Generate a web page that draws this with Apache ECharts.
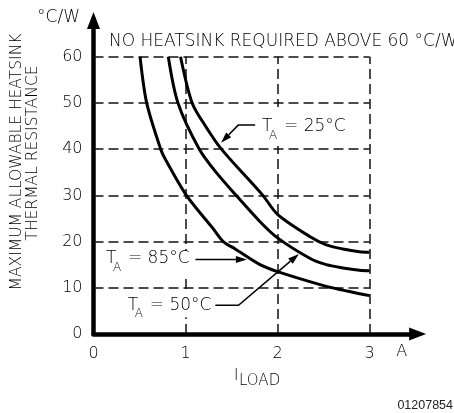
<!DOCTYPE html>
<html>
<head>
<meta charset="utf-8">
<script src="https://cdn.jsdelivr.net/npm/echarts@6/dist/echarts.min.js"></script>
<style>
  html, body { margin: 0; padding: 0; background: #fff; }
  #c { width: 454px; height: 413px; }
</style>
</head>
<body>
<div id="c"></div>
<script>
// Axis ticks
const xTicks = [0, 1, 2, 3];
const yTicks = [0, 10, 20, 30, 40, 50, 60];

// Maximum allowable heatsink thermal resistance (°C/W) vs load current (A)
const curve25 = [[0.946, 60], [1.072, 50], [1.22, 44.9], [1.39, 40], [1.84, 30], [2.0, 25.9],
                 [2.35, 21.1], [2.53, 19.3], [2.71, 18.4], [2.89, 17.8], [3.0, 17.7]];
const curve50 = [[0.813, 60], [0.918, 50], [1.15, 40], [1.34, 34.8], [1.55, 30], [1.81, 24.3], [2.0, 20.8],
                 [2.35, 16.4], [2.53, 15.0], [2.71, 14.3], [2.89, 13.8], [3.0, 13.7]];
const curve85 = [[0.506, 60], [0.578, 50], [0.73, 40], [0.784, 37.7], [1.01, 30], [1.30, 22.8], [1.41, 20],
                 [1.54, 18.4], [1.81, 15.0], [2.0, 13.5], [2.53, 10.3], [2.71, 9.5], [2.89, 8.7], [3.0, 8.3]];

// Curve callout texts
const calloutTemps = ['25°C', '85°C', '50°C'];

// Callout placement in axis units: label anchor, leader line (ends in an arrowhead), masked band around label
const calloutLayout = [
  { at: [1.832, 44.8], leader: [[1.757, 45.2], [1.573, 45.2], [1.386, 41.4]], mask: [20, 19] },
  { at: [0.135, 16.3], leader: [[1.108, 16.1], [1.667, 16.1]], mask: [8, 16] },
  { at: [0.373, 6.2],  leader: [[1.324, 6.2], [1.576, 6.2], [2.232, 17.3]], mask: [12, 12] }
];

const FAMILY = '"DejaVu Sans", sans-serif';
const font = size => '200 ' + size + 'px ' + FAMILY;
const X_MAX = 3.43;
const Y_MAX = 66;
const xLast = xTicks[xTicks.length - 1];
const yLast = yTicks[yTicks.length - 1];

const gridSegments = []
  .concat(yTicks.filter(v => v > 0).map(v => ({ coords: [[0, v], [xLast, v]] })))
  .concat(xTicks.filter(v => v > 0).map(v => ({ coords: [[v, 0], [v, yLast]] })));

function curveSeries(data) {
  return {
    type: 'line', data: data, showSymbol: false, smooth: 0.3,
    lineStyle: { color: '#000', width: 3 }, z: 5, silent: true
  };
}

const labelStyle = { color: '#000', fontFamily: FAMILY, fontWeight: 200, fontSize: 16 };
const axisCommon = {
  type: 'value',
  splitLine: { show: false },
  axisTick: { show: false },
  axisLine: {
    onZero: false,
    lineStyle: { color: '#000', width: 4.5 },
    symbol: ['none', 'triangle'],
    symbolSize: [13, 17],
    symbolOffset: [0, 8.5]
  }
};

const chart = echarts.init(document.getElementById('c'), null, { renderer: 'canvas' });
chart.setOption({
  animation: false,
  grid: { left: 93.5, top: 29, width: 315.6, height: 305 },
  xAxis: Object.assign({}, axisCommon, {
    min: 0, max: X_MAX,
    axisLabel: Object.assign({ customValues: xTicks, margin: 12 }, labelStyle)
  }),
  yAxis: Object.assign({}, axisCommon, {
    min: 0, max: Y_MAX,
    axisLabel: Object.assign({ customValues: yTicks, margin: 11 }, labelStyle)
  }),
  series: [
    {
      type: 'lines', coordinateSystem: 'cartesian2d', data: gridSegments, silent: true, z: 1,
      lineStyle: { color: '#111', width: 1.5, type: [10, 5], opacity: 1 }
    },
    curveSeries(curve25),
    curveSeries(curve50),
    curveSeries(curve85)
  ]
});

const toPx = p => chart.convertToPixel({ gridIndex: 0 }, p);
const txt = (x, y, text, size, extra) => ({
  type: 'text', x: x, y: y, silent: true, z: 20,
  style: Object.assign({ text: text, fill: '#000', font: font(size), textVerticalAlign: 'middle' }, extra || {})
});

const graphics = [];

// Unit at the top of the vertical axis and the heading
graphics.push(txt(80, 18, '°C/W', 17, { textAlign: 'right' }));
graphics.push(txt(109, 42, 'NO HEATSINK REQUIRED ABOVE 60 °C/W', 17));

// Vertical axis title (two rotated lines)
graphics.push(Object.assign(txt(17, 162, 'MAXIMUM ALLOWABLE HEATSINK', 15.5, { textAlign: 'center' }), { rotation: Math.PI / 2 }));
graphics.push(Object.assign(txt(33, 153, 'THERMAL RESISTANCE', 15.5, { textAlign: 'center' }), { rotation: Math.PI / 2 }));

// Horizontal axis unit and title
const aPos = toPx([3.35, 0]);
graphics.push(txt(aPos[0], 352, 'A', 16, { textAlign: 'center' }));
graphics.push(txt(234, 376, 'I', 15));
graphics.push(txt(239, 381, 'LOAD', 15));

// Drawing number
graphics.push(txt(453, 406, '01207854', 12.5, { textAlign: 'right', fill: '#222', font: '12.5px "Liberation Sans", Arial, sans-serif' }));

// Curve callouts
calloutTemps.forEach((temp, i) => {
  const c = calloutLayout[i];
  const p = toPx(c.at);
  // white band so the dashed grid does not run through the label
  graphics.push({ type: 'rect', silent: true, z: 15,
    shape: { x: p[0] - 2, y: p[1] - c.mask[0], width: 86, height: c.mask[0] + c.mask[1] }, style: { fill: '#fff' } });
  graphics.push(txt(p[0], p[1], 'T', 17));
  graphics.push(txt(p[0] + 7, p[1] + 9, 'A', 12));
  graphics.push(txt(p[0] + 22, p[1], '= ' + temp, 17));

  const pts = c.leader.map(toPx);
  const tip = pts[pts.length - 1];
  const prev = pts[pts.length - 2];
  const dx = tip[0] - prev[0], dy = tip[1] - prev[1];
  const len = Math.hypot(dx, dy);
  const ux = dx / len, uy = dy / len;
  const headLen = 11, headHalf = 3.5;
  const base = [tip[0] - ux * headLen, tip[1] - uy * headLen];
  const shaft = pts.slice(0, -1).concat([base]);
  graphics.push({ type: 'polyline', silent: true, z: 20, shape: { points: shaft },
    style: { stroke: '#000', lineWidth: 1.5, fill: null } });
  graphics.push({ type: 'polygon', silent: true, z: 20, shape: { points: [
    tip,
    [base[0] - uy * headHalf, base[1] + ux * headHalf],
    [base[0] + uy * headHalf, base[1] - ux * headHalf]
  ] }, style: { fill: '#000' } });
});

chart.setOption({ graphic: graphics });
</script>
</body>
</html>
